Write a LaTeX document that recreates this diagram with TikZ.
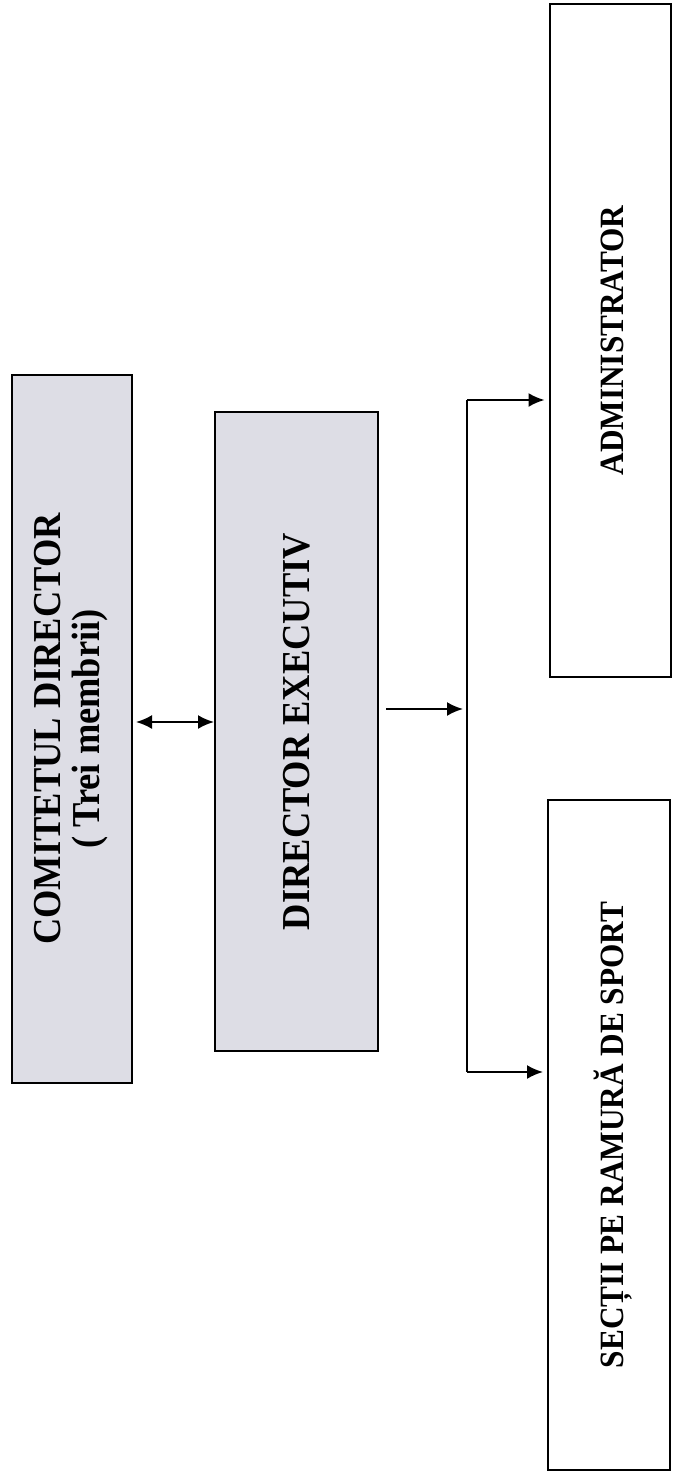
\documentclass[tikz,border=0pt]{standalone}
\usepackage{fontspec}
\setmainfont{Liberation Serif}
\newfontfamily\chartfont[FakeStretch=0.92]{Liberation Serif}
\usepackage{graphicx}
\usepackage{xcolor}
\usepackage{tikz}
\usetikzlibrary{arrows.meta,positioning,calc}

\definecolor{boxgray}{RGB}{221,221,229}

\begin{document}
\begin{tikzpicture}[
      x=0.5pt, y=-0.5pt,
      box/.style={rectangle, draw, line width=1pt, inner sep=0pt},
      board/.style={box, fill=boxgray, font=\chartfont\fontsize{19.8}{19}\selectfont\bfseries},
      unitbox/.style={box, fill=white, font=\chartfont\fontsize{17}{18}\selectfont\bfseries},
      arr/.style={-{Latex[length=8pt,width=7pt]}, line width=1pt},
      dblarr/.style={{Latex[length=8pt,width=7pt]}-{Latex[length=8pt,width=7pt]}, line width=1pt},
    ]

    \useasboundingbox (0,0) rectangle (676,1484);

    % Board
    \node[board, minimum width=60pt, minimum height=354pt] (comitet) at (72, 729)
      {\rotatebox{90}{\begin{tabular}{@{}c@{}}COMITETUL DIRECTOR\\( Trei membrii)\end{tabular}}};

    % Executive director
    \node[board, minimum width=81.5pt, minimum height=319.5pt] (direx) at (296.5, 731.5)
      {\rotatebox{90}{DIRECTOR EXECUTIV}\hspace{3pt}};

    % Subordinate units
    \node[unitbox, minimum width=60.5pt, minimum height=336.5pt] (admin) at (610, 340.5)
      {\hspace{2pt}\rotatebox{90}{ADMINISTRATOR}};
    \node[unitbox, minimum width=61pt, minimum height=335pt] (sectii) at (609, 1135)
      {\hspace{4pt}\rotatebox{90}{SECȚII PE RAMURĂ DE SPORT}};

    % Branch points
    \coordinate (bus) at (467, 709);
    \coordinate (jtop) at (467, 400);
    \coordinate (jbot) at (467, 1072);

    % Arrows: board <-> director
    \draw[dblarr, shorten <=1.5pt] ([yshift=3.5pt]comitet.east) -- ([yshift=3.5pt]comitet.east -| direx.west);

    % Arrows: director to units
    \draw[arr, shorten <=3.5pt, shorten >=2pt] (direx.east |- bus) -- (bus);
    \draw[line width=1pt] (jtop) -- (jbot);
    \draw[arr, shorten >=2pt] (jtop) -- (admin.west |- jtop);
    \draw[arr, shorten >=2pt] (jbot) -- (sectii.west |- jbot);

    \end{tikzpicture}
\end{document}
